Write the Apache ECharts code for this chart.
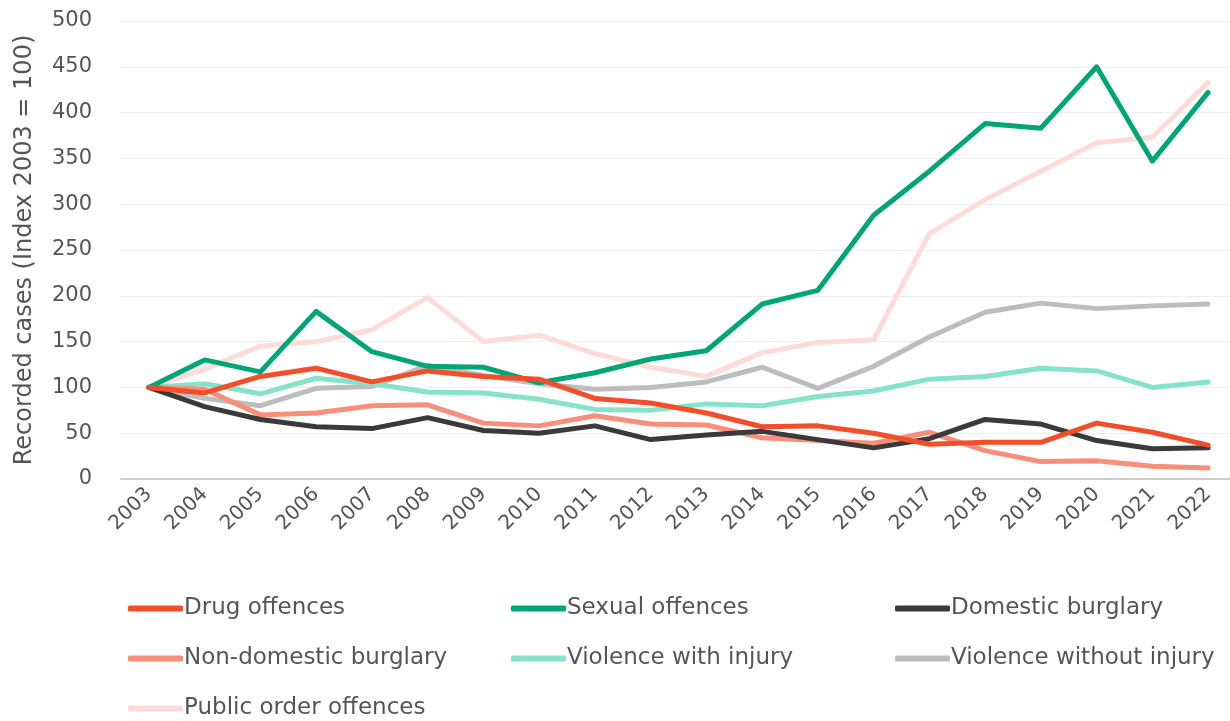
<!DOCTYPE html>
<html>
<head>
<meta charset="utf-8">
<script src="https://cdn.jsdelivr.net/npm/echarts@6/dist/echarts.min.js"></script>
<style>
  html, body { margin: 0; padding: 0; background: #fff; }
  #chart { width: 1230px; height: 721px; }
</style>
</head>
<body>
<div id="chart"></div>
<script>
// years on the x axis
var years = ['2003','2004','2005','2006','2007','2008','2009','2010','2011','2012',
             '2013','2014','2015','2016','2017','2018','2019','2020','2021','2022'];

// index values (2003 = 100)
var drugOffences        = [100, 94, 112, 121, 106, 118, 112, 109, 88, 83, 72, 57, 58, 50, 38, 40, 40, 61, 51, 37];
var sexualOffences      = [100, 130, 117, 183, 139, 123, 122, 105, 116, 131, 140, 191, 206, 288, 336, 388, 383, 450, 347, 422];
var domesticBurglary    = [100, 79, 65, 57, 55, 67, 53, 50, 58, 43, 48, 52, 43, 34, 44, 65, 60, 42, 33, 34];
var nonDomesticBurglary = [100, 98, 70, 72, 80, 81, 61, 58, 69, 60, 59, 45, 42, 39, 51, 31, 19, 20, 14, 12];
var violenceInjury      = [100, 104, 93, 110, 104, 95, 94, 87, 76, 75, 82, 80, 90, 96, 109, 112, 121, 118, 100, 106];
var violenceNoInjury    = [100, 88, 80, 99, 101, 124, 113, 104, 98, 100, 106, 122, 99, 123, 155, 182, 192, 186, 189, 191];
var publicOrder         = [100, 120, 145, 150, 163, 198, 150, 157, 137, 122, 112, 138, 149, 152, 268, 305, 336, 367, 373, 433];

var seriesNames = ['Drug offences', 'Sexual offences', 'Domestic burglary', 'Non-domestic burglary',
                   'Violence with injury', 'Violence without injury', 'Public order offences'];
var seriesData = [drugOffences, sexualOffences, domesticBurglary, nonDomesticBurglary,
                  violenceInjury, violenceNoInjury, publicOrder];
var colors = ['#f24e2b', '#00a676', '#3a3a3a', '#f78f7a', '#86e2c8', '#bdbdbd', '#fddcd6'];

var font = '"DejaVu Sans", sans-serif';
var textCol = '#555';

function makeLegend(names, left) {
  return {
    data: names,
    orient: 'vertical',
    left: left,
    top: 597,
    height: 124,
    padding: 0,
    icon: 'roundRect',
    itemWidth: 55,
    itemHeight: 6,
    itemGap: 27,
    textStyle: { fontFamily: font, fontSize: 23, color: textCol, padding: [0, 0, 0, -4] }
  };
}

var chart = echarts.init(document.getElementById('chart'));

var option = {
  backgroundColor: '#fff',
  animation: false,
  color: colors,
  grid: { left: 121, top: 21, width: 1115, height: 458, outerBoundsMode: 'none', containLabel: false },
  legend: [
    makeLegend(['Drug offences', 'Non-domestic burglary', 'Public order offences'], 128),
    makeLegend(['Sexual offences', 'Violence with injury'], 511),
    makeLegend(['Domestic burglary', 'Violence without injury'], 895)
  ],
  xAxis: {
    type: 'category',
    data: years,
    boundaryGap: true,
    axisLine: { lineStyle: { color: '#cccccc', width: 2 } },
    axisTick: { show: false },
    axisLabel: { rotate: 45, fontFamily: font, fontSize: 20, color: textCol, margin: 12, interval: 0 }
  },
  yAxis: {
    type: 'value',
    min: 0,
    max: 500,
    interval: 50,
    name: 'Recorded cases (Index 2003 = 100)',
    nameLocation: 'middle',
    nameRotate: 90,
    nameGap: 84,
    nameTextStyle: { fontFamily: font, fontSize: 24, color: textCol },
    axisLine: { show: false },
    axisTick: { show: false },
    axisLabel: { fontFamily: font, fontSize: 21, color: textCol, margin: 29 },
    splitLine: { lineStyle: { color: '#eeeeee', width: 1 } }
  },
  series: []
};

// one line per offence type, earlier ones drawn on top
seriesNames.forEach(function (name, i) {
  option.series.push({
    name: name,
    type: 'line',
    data: seriesData[i],
    symbol: 'none',
    lineStyle: { width: 5, color: colors[i], cap: 'round', join: 'round' },
    itemStyle: { color: colors[i] },
    z: 2 + (6 - i)
  });
});

chart.setOption(option);
</script>
</body>
</html>
